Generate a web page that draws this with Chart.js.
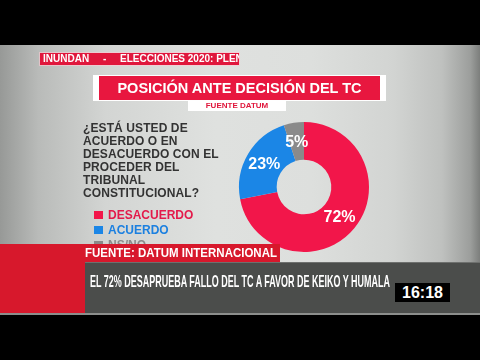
<!DOCTYPE html>
<html>
<head>
<meta charset="utf-8">
<script src="https://cdn.jsdelivr.net/npm/chart.js@4/dist/chart.umd.min.js"></script>
<style>
  html, body { margin: 0; padding: 0; background: #000; }
  #stage { position: relative; width: 480px; height: 360px; overflow: hidden; background: #000; font-family: "Liberation Sans", Arial, sans-serif; }
  .abs { position: absolute; }
  #bg { left: 0; top: 45px; width: 480px; height: 270px;
        background: linear-gradient(to right, #979997 0%, #b9bbb9 8%, #d3d5d3 22%, #dfe1df 45%, #dddfdd 65%, #d2d4d2 82%, #bfc1bf 92%, #9c9e9c 98%, #7c7e7c 100%); }
  #chartWrap { left: 0; top: 0; width: 480px; height: 360px; z-index: 2; }
  .over { z-index: 3; }
  #ticker { left: 40px; top: 53px; width: 199px; height: 12px; background: #e0173c; overflow: hidden; color: #fff; font-weight: bold; font-size: 10px; line-height: 12px; box-shadow: 0 0 0 1px rgba(255,200,210,0.6); }
  #ticker span { position: absolute; top: 0; white-space: pre; }
  #titleBox { left: 93px; top: 75px; width: 293px; height: 26px; background: #fff; }
  #titleRed { left: 99px; top: 76px; width: 281px; height: 24px; background: #e8173f; color: #fff; font-weight: bold; font-size: 14.5px; line-height: 25px; text-align: center; }
  #src { left: 188px; top: 101px; width: 98px; height: 10px; background: #fff; color: #e0173c; font-weight: bold; font-size: 8px; line-height: 10px; text-align: center; }
  #question { left: 83px; top: 122px; color: #333333; font-weight: bold; font-size: 12px; line-height: 13px; white-space: pre; letter-spacing: 0.1px; }
  .leg { position: absolute; font-weight: bold; font-size: 12px; line-height: 14px; white-space: pre; }
  .sq { position: absolute; width: 9px; height: 8px; }
  #leftRed { left: 0; top: 244px; width: 85px; height: 69px; background: #d7182c; }
  #fuente { left: 83px; top: 244px; width: 197px; height: 18px; background: #d7182c; }
  #fuenteTxt { left: 85px; top: 245px; color: #fff; font-weight: bold; font-size: 12px; line-height: 17px; white-space: pre; transform-origin: 0 0; }
  #dark { left: 85px; top: 262px; width: 395px; height: 51px; background: #4b4d4b; border-top: 1px solid #6e706e; box-sizing: border-box; }
  #headline { left: 90px; top: 273px; color: #fff; font-weight: bold; font-size: 17px; line-height: 17px; white-space: pre; transform-origin: 0 0; }
  #clock { left: 395px; top: 283px; width: 55px; height: 19px; background: #000; color: #fff; font-weight: bold; font-size: 16px; line-height: 20px; text-align: center; }
  #lowLine { left: 0; top: 313px; width: 480px; height: 2px; background: #8c8e8c; }
</style>
</head>
<body>
<div id="stage">
  <div id="bg" class="abs"></div>
  <div id="chartWrap" class="abs"><canvas id="c" width="480" height="360"></canvas></div>

  <div id="ticker" class="abs over"><span style="left:3px">INUNDAN</span><span style="left:63px">-</span><span style="left:80px">ELECCIONES 2020: PLENO DEL CONGRESO</span></div>
  <div id="titleBox" class="abs over"></div>
  <div id="titleRed" class="abs over">POSICIÓN ANTE DECISIÓN DEL TC</div>
  <div id="src" class="abs over">FUENTE DATUM</div>
  <div id="question" class="abs over"></div>
  <div id="legend" class="abs over" style="left:0;top:0;width:480px;height:360px;"></div>

  <div id="leftRed" class="abs over"></div>
  <div id="fuente" class="abs over"></div>
  <div id="fuenteTxt" class="abs over">FUENTE: DATUM INTERNACIONAL</div>
  <div id="dark" class="abs over"></div>
  <div id="headline" class="abs over">EL 72% DESAPRUEBA FALLO DEL TC A FAVOR DE KEIKO Y HUMALA</div>
  <div id="clock" class="abs over">16:18</div>
  <div id="lowLine" class="abs over"></div>
</div>

<script>
// ---- data ----
const categories = ['DESACUERDO', 'ACUERDO', 'NS/NO'];
const values = [72, 23, 5];
const sliceColors = ['#f2164a', '#1b86e6', '#8a8a8a'];
const legendTextColors = ['#e31a4a', '#1c80e0', '#8a8a8a'];
const questionLines = ['¿ESTÁ USTED DE', 'ACUERDO O EN', 'DESACUERDO CON EL', 'PROCEDER DEL', 'TRIBUNAL', 'CONSTITUCIONAL?'];

// ---- question text ----
document.getElementById('question').textContent = questionLines.join('\n');

// ---- legend (HTML built from the arrays) ----
const legend = document.getElementById('legend');
categories.forEach((cat, i) => {
  const top = 207 + i * 15;
  const sq = document.createElement('div');
  sq.className = 'sq';
  sq.style.left = '94px';
  sq.style.top = (top + 4) + 'px';
  sq.style.background = sliceColors[i];
  legend.appendChild(sq);
  const t = document.createElement('div');
  t.className = 'leg';
  t.style.left = '108px';
  t.style.top = (top + 1) + 'px';
  t.style.color = legendTextColors[i];
  t.textContent = cat;
  legend.appendChild(t);
});

// ---- fit condensed texts ----
function fitWidth(id, target) {
  const el = document.getElementById(id);
  const w = el.getBoundingClientRect().width;
  el.style.transform = 'scale(' + (target / w) + ', 1)';
}
fitWidth('headline', 300);
fitWidth('fuenteTxt', 192);

// ---- value labels plugin ----
const valueLabels = {
  id: 'valueLabels',
  afterDatasetsDraw(chart) {
    const ctx = chart.ctx;
    const meta = chart.getDatasetMeta(0);
    ctx.save();
    ctx.fillStyle = '#ffffff';
    ctx.font = 'bold 16px "Liberation Sans", Arial, sans-serif';
    ctx.textAlign = 'center';
    ctx.textBaseline = 'middle';
    meta.data.forEach((arc, i) => {
      const p = arc.tooltipPosition();
      ctx.fillText(values[i] + '%', p.x, p.y + 1);
    });
    ctx.restore();
  }
};

new Chart(document.getElementById('c'), {
  type: 'doughnut',
  data: {
    labels: categories,
    datasets: [{
      data: values,
      backgroundColor: sliceColors,
      borderWidth: 0
    }]
  },
  options: {
    responsive: false,
    animation: false,
    cutout: '42%',
    layout: { padding: { left: 239, right: 111, top: 122, bottom: 108 } },
    plugins: { legend: { display: false }, tooltip: { enabled: false } }
  },
  plugins: [valueLabels]
});
</script>
</body>
</html>
